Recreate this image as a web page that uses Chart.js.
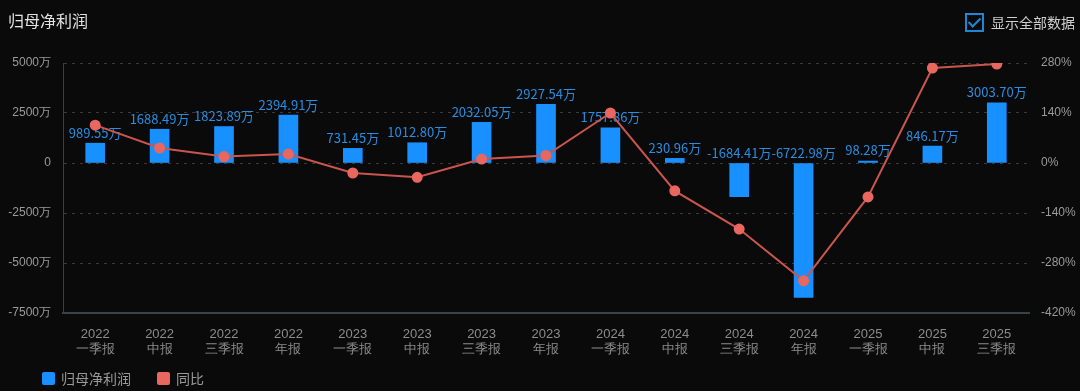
<!DOCTYPE html>
<html>
<head>
<meta charset="utf-8">
<script src="https://cdn.jsdelivr.net/npm/chart.js@4"></script>
<style>
  html, body { margin: 0; padding: 0; background: #0a0a0a; }
  body { width: 1080px; height: 391px; position: relative; overflow: hidden;
         font-family: "Noto Sans CJK SC", "Noto Sans", sans-serif; }
  #chart { position: absolute; left: 0; top: 0; }
  .title { position: absolute; left: 8px; top: 8px; font-size: 16px; color: #e2e2e2; }
  .toggle { position: absolute; left: 965px; top: 12px; display: flex; align-items: center;
            font-size: 14px; color: #cfcfcf; }
  .toggle .box { width: 15px; height: 15px; border: 2px solid #1f86d6; margin-right: 7px;
                 position: relative; }
  .toggle .box::after { content: ''; position: absolute; left: 4px; top: 0px; width: 5px; height: 10px;
                        border: solid #1f86d6; border-width: 0 2px 2px 0; transform: rotate(45deg); }
  .legend { position: absolute; left: 42px; top: 368px; display: flex; font-size: 14px; color: #9a9a9a; }
  .legend .item { display: flex; align-items: center; margin-right: 26px; }
  .legend .sw { width: 13px; height: 13px; border-radius: 2px; margin-right: 6px; }
</style>
</head>
<body>
<canvas id="chart" width="1080" height="391"></canvas>
<div class="title">归母净利润</div>
<div class="toggle"><span class="box"></span>显示全部数据</div>
<div class="legend">
  <div class="item"><span class="sw" style="background:#1890ff"></span>归母净利润</div>
  <div class="item"><span class="sw" style="background:#e8675f"></span>同比</div>
</div>
<script>
// 报告期
const years = ['2022', '2022', '2022', '2022', '2023', '2023', '2023', '2023',
               '2024', '2024', '2024', '2024', '2025', '2025', '2025'];
const periods = ['一季报', '中报', '三季报', '年报', '一季报', '中报', '三季报', '年报',
                 '一季报', '中报', '三季报', '年报', '一季报', '中报', '三季报'];
// 归母净利润（万）
const netProfit = [989.55, 1688.49, 1823.89, 2394.91, 731.45, 1012.80, 2032.05, 2927.54,
                   1757.86, 230.96, -1684.41, -6722.98, 98.28, 846.17, 3003.70];
// 同比（%）
const yoy = [106, 42, 18, 25, -28, -40, 11, 21, 140, -78, -185, -330, -95, 266, 277];
// 坐标轴刻度
const leftTicks = [-7500, -5000, -2500, 0, 2500, 5000];
const rightTicks = [-420, -280, -140, 0, 140, 280];

const labels = years.map((y, i) => [y, periods[i]]);

// 柱子数值标签
const barLabels = {
  id: 'barLabels',
  afterDatasetDraw(chart, args) {
    if (args.index !== 0) return;
    const ctx = chart.ctx;
    const meta = chart.getDatasetMeta(0);
    ctx.save();
    ctx.font = '13px "Noto Sans CJK SC", sans-serif';
    ctx.fillStyle = '#2a8de0';
    ctx.textAlign = 'center';
    ctx.textBaseline = 'bottom';
    meta.data.forEach((bar, i) => {
      const top = Math.min(bar.y, bar.base);
      ctx.fillText(netProfit[i].toFixed(2) + '万', bar.x, top - 4);
    });
    ctx.restore();
  }
};

new Chart(document.getElementById('chart'), {
  type: 'bar',
  data: {
    labels: labels,
    datasets: [
      {
        type: 'bar',
        label: '归母净利润',
        data: netProfit,
        backgroundColor: '#1890ff',
        barThickness: 19,
        yAxisID: 'y',
        order: 1
      },
      {
        type: 'line',
        label: '同比',
        data: yoy,
        borderColor: '#c9554e',
        borderWidth: 2,
        pointRadius: 4.5,
        pointBackgroundColor: '#e8675f',
        pointBorderColor: '#e8675f',
        tension: 0,
        yAxisID: 'y1',
        order: 0
      }
    ]
  },
  options: {
    responsive: false,
    animation: false,
    layout: { padding: { top: 63, bottom: 33, left: 0, right: 0 } },
    plugins: { legend: { display: false }, tooltip: { enabled: false } },
    scales: {
      x: {
        grid: { display: false },
        border: { color: '#37414f', width: 2 },
        ticks: { color: '#8c8c8c', font: { size: 13, lineHeight: 1.15 }, maxRotation: 0, autoSkip: false, padding: 6 },
        afterFit(s) { s.height = 45; }
      },
      y: {
        position: 'left',
        min: -7500, max: 5000,
        afterBuildTicks(s) { s.ticks = leftTicks.map(v => ({ value: v })); },
        grid: { color: '#3a3a3a', drawTicks: false },
        border: { color: '#34404f', dash: [3, 5], width: 1 },
        ticks: { color: '#9a9a9a', font: { size: 12 }, padding: 12,
                 callback: v => v === 0 ? '0' : v + '万' },
        afterFit(s) { s.width = 63; }
      },
      y1: {
        position: 'right',
        min: -420, max: 280,
        afterBuildTicks(s) { s.ticks = rightTicks.map(v => ({ value: v })); },
        grid: { display: false, drawTicks: false },
        border: { display: false },
        ticks: { color: '#9a9a9a', font: { size: 12 }, padding: 12, callback: v => v + '%' },
        afterFit(s) { s.width = 51; }
      }
    }
  },
  plugins: [barLabels]
});
</script>
</body>
</html>
